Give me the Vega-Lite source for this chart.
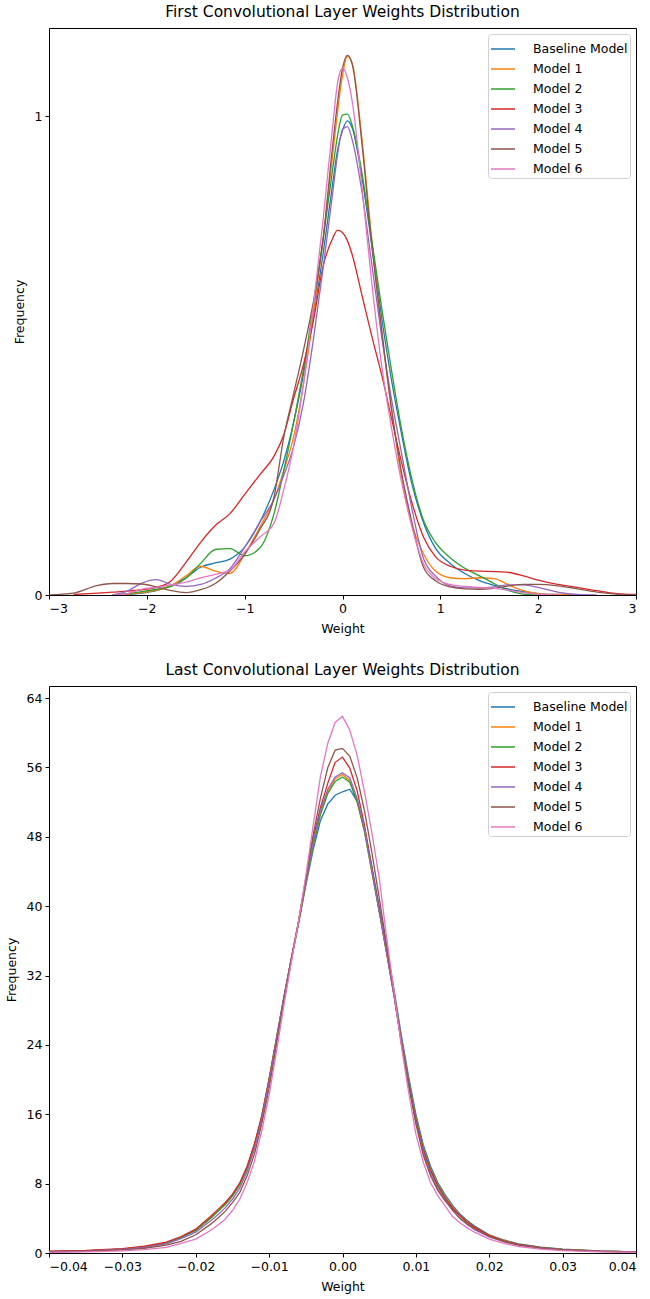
{
  "$schema": "https://vega.github.io/schema/vega-lite/v6.json",
  "background": "white",
  "padding": {"left": 4, "top": 4, "right": 0, "bottom": 5},
  "config": {
    "font": "DejaVu Sans",
    "view": {"stroke": "black", "strokeWidth": 1},
    "axis": {"domain": false, "grid": false, "tickColor": "black", "tickSize": 4, "labelFontSize": 12.5, "labelColor": "black", "titleFontSize": 12.5, "titleFontWeight": "normal", "titleColor": "black", "labelPadding": 3, "titlePadding": 8},
    "title": {"fontSize": 15.5, "fontWeight": "normal", "color": "black", "offset": 8},
    "legend": {"orient": "top-right", "offset": 6, "padding": 2, "strokeColor": "#d0d0d0", "fillColor": "white", "cornerRadius": 3, "symbolType": "stroke", "symbolSize": 576, "symbolStrokeWidth": 1.5, "labelFontSize": 12.5, "labelColor": "black", "labelOffset": 17, "rowPadding": -0.3, "labelLimit": 0}
  },
  "datasets": {
    "top": [
      {"w": -3, "Baseline Model": null, "Model 1": null, "Model 2": null, "Model 3": null, "Model 4": null, "Model 5": 0, "Model 6": null},
      {"w": -2.75, "Baseline Model": null, "Model 1": null, "Model 2": null, "Model 3": 0.001, "Model 4": null, "Model 5": 0.004, "Model 6": null},
      {"w": -2.5, "Baseline Model": null, "Model 1": null, "Model 2": null, "Model 3": 0.004, "Model 4": null, "Model 5": 0.02, "Model 6": null},
      {"w": -2.35, "Baseline Model": 0, "Model 1": 0, "Model 2": 0, "Model 3": 0.006, "Model 4": 0, "Model 5": 0.024, "Model 6": 0},
      {"w": -2.2, "Baseline Model": 0.001, "Model 1": 0.002, "Model 2": 0.003, "Model 3": 0.008, "Model 4": 0.008, "Model 5": 0.024, "Model 6": 0.003},
      {"w": -2.05, "Baseline Model": 0.004, "Model 1": 0.005, "Model 2": 0.007, "Model 3": 0.011, "Model 4": 0.025, "Model 5": 0.023, "Model 6": 0.012},
      {"w": -1.9, "Baseline Model": 0.009, "Model 1": 0.01, "Model 2": 0.012, "Model 3": 0.016, "Model 4": 0.032, "Model 5": 0.017, "Model 6": 0.016},
      {"w": -1.75, "Baseline Model": 0.02, "Model 1": 0.02, "Model 2": 0.018, "Model 3": 0.03, "Model 4": 0.022, "Model 5": 0.009, "Model 6": 0.021},
      {"w": -1.6, "Baseline Model": 0.036, "Model 1": 0.04, "Model 2": 0.035, "Model 3": 0.068, "Model 4": 0.018, "Model 5": 0.005, "Model 6": 0.027},
      {"w": -1.45, "Baseline Model": 0.058, "Model 1": 0.06, "Model 2": 0.066, "Model 3": 0.11, "Model 4": 0.022, "Model 5": 0.011, "Model 6": 0.036},
      {"w": -1.3, "Baseline Model": 0.067, "Model 1": 0.05, "Model 2": 0.095, "Model 3": 0.145, "Model 4": 0.035, "Model 5": 0.024, "Model 6": 0.043},
      {"w": -1.15, "Baseline Model": 0.075, "Model 1": 0.045, "Model 2": 0.097, "Model 3": 0.17, "Model 4": 0.055, "Model 5": 0.05, "Model 6": 0.052},
      {"w": -1.0, "Baseline Model": 0.1, "Model 1": 0.085, "Model 2": 0.082, "Model 3": 0.21, "Model 4": 0.1, "Model 5": 0.085, "Model 6": 0.09},
      {"w": -0.85, "Baseline Model": 0.15, "Model 1": 0.14, "Model 2": 0.097, "Model 3": 0.25, "Model 4": 0.15, "Model 5": 0.135, "Model 6": 0.12},
      {"w": -0.7, "Baseline Model": 0.22, "Model 1": 0.2, "Model 2": 0.17, "Model 3": 0.29, "Model 4": 0.2, "Model 5": 0.205, "Model 6": 0.15},
      {"w": -0.6, "Baseline Model": 0.28, "Model 1": 0.26, "Model 2": 0.26, "Model 3": 0.335, "Model 4": 0.25, "Model 5": 0.33, "Model 6": 0.22},
      {"w": -0.5, "Baseline Model": 0.36, "Model 1": 0.33, "Model 2": 0.36, "Model 3": 0.41, "Model 4": 0.31, "Model 5": 0.42, "Model 6": 0.31},
      {"w": -0.4, "Baseline Model": 0.46, "Model 1": 0.44, "Model 2": 0.47, "Model 3": 0.48, "Model 4": 0.4, "Model 5": 0.51, "Model 6": 0.44},
      {"w": -0.3, "Baseline Model": 0.58, "Model 1": 0.58, "Model 2": 0.6, "Model 3": 0.57, "Model 4": 0.53, "Model 5": 0.61, "Model 6": 0.6},
      {"w": -0.2, "Baseline Model": 0.71, "Model 1": 0.74, "Model 2": 0.74, "Model 3": 0.685, "Model 4": 0.68, "Model 5": 0.74, "Model 6": 0.78},
      {"w": -0.1, "Baseline Model": 0.86, "Model 1": 0.92, "Model 2": 0.89, "Model 3": 0.745, "Model 4": 0.84, "Model 5": 0.94, "Model 6": 0.98},
      {"w": -0.05, "Baseline Model": 0.93, "Model 1": 1.01, "Model 2": 0.96, "Model 3": 0.762, "Model 4": 0.92, "Model 5": 1.03, "Model 6": 1.07},
      {"w": 0, "Baseline Model": 0.97, "Model 1": 1.085, "Model 2": 1.002, "Model 3": 0.757, "Model 4": 0.972, "Model 5": 1.1, "Model 6": 1.1},
      {"w": 0.05, "Baseline Model": 0.99, "Model 1": 1.125, "Model 2": 1.004, "Model 3": 0.74, "Model 4": 0.978, "Model 5": 1.127, "Model 6": 1.08},
      {"w": 0.1, "Baseline Model": 0.975, "Model 1": 1.11, "Model 2": 0.98, "Model 3": 0.71, "Model 4": 0.95, "Model 5": 1.108, "Model 6": 1.03},
      {"w": 0.2, "Baseline Model": 0.87, "Model 1": 0.95, "Model 2": 0.88, "Model 3": 0.625, "Model 4": 0.84, "Model 5": 0.94, "Model 6": 0.85},
      {"w": 0.3, "Baseline Model": 0.73, "Model 1": 0.74, "Model 2": 0.74, "Model 3": 0.54, "Model 4": 0.69, "Model 5": 0.73, "Model 6": 0.65},
      {"w": 0.4, "Baseline Model": 0.58, "Model 1": 0.55, "Model 2": 0.6, "Model 3": 0.46, "Model 4": 0.54, "Model 5": 0.555, "Model 6": 0.48},
      {"w": 0.5, "Baseline Model": 0.45, "Model 1": 0.39, "Model 2": 0.47, "Model 3": 0.37, "Model 4": 0.41, "Model 5": 0.39, "Model 6": 0.35},
      {"w": 0.6, "Baseline Model": 0.34, "Model 1": 0.25, "Model 2": 0.35, "Model 3": 0.28, "Model 4": 0.3, "Model 5": 0.26, "Model 6": 0.24},
      {"w": 0.7, "Baseline Model": 0.24, "Model 1": 0.155, "Model 2": 0.25, "Model 3": 0.2, "Model 4": 0.19, "Model 5": 0.16, "Model 6": 0.15},
      {"w": 0.83, "Baseline Model": 0.15, "Model 1": 0.085, "Model 2": 0.155, "Model 3": 0.12, "Model 4": 0.075, "Model 5": 0.057, "Model 6": 0.064},
      {"w": 0.95, "Baseline Model": 0.098, "Model 1": 0.05, "Model 2": 0.11, "Model 3": 0.08, "Model 4": 0.04, "Model 5": 0.03, "Model 6": 0.035},
      {"w": 1.1, "Baseline Model": 0.066, "Model 1": 0.036, "Model 2": 0.078, "Model 3": 0.06, "Model 4": 0.019, "Model 5": 0.017, "Model 6": 0.022},
      {"w": 1.25, "Baseline Model": 0.045, "Model 1": 0.034, "Model 2": 0.056, "Model 3": 0.052, "Model 4": 0.015, "Model 5": 0.013, "Model 6": 0.018},
      {"w": 1.4, "Baseline Model": 0.03, "Model 1": 0.036, "Model 2": 0.04, "Model 3": 0.05, "Model 4": 0.015, "Model 5": 0.012, "Model 6": 0.016},
      {"w": 1.55, "Baseline Model": 0.02, "Model 1": 0.034, "Model 2": 0.024, "Model 3": 0.049, "Model 4": 0.017, "Model 5": 0.014, "Model 6": 0.014},
      {"w": 1.7, "Baseline Model": 0.012, "Model 1": 0.021, "Model 2": 0.009, "Model 3": 0.047, "Model 4": 0.021, "Model 5": 0.019, "Model 6": 0.01},
      {"w": 1.85, "Baseline Model": 0.007, "Model 1": 0.009, "Model 2": 0.002, "Model 3": 0.04, "Model 4": 0.021, "Model 5": 0.022, "Model 6": 0.005},
      {"w": 2.0, "Baseline Model": 0.003, "Model 1": 0.003, "Model 2": 0, "Model 3": 0.031, "Model 4": 0.016, "Model 5": 0.022, "Model 6": 0.002},
      {"w": 2.2, "Baseline Model": 0.001, "Model 1": 0.001, "Model 2": null, "Model 3": 0.022, "Model 4": 0.006, "Model 5": 0.019, "Model 6": 0},
      {"w": 2.4, "Baseline Model": 0, "Model 1": 0, "Model 2": null, "Model 3": 0.016, "Model 4": 0.001, "Model 5": 0.013, "Model 6": null},
      {"w": 2.6, "Baseline Model": null, "Model 1": null, "Model 2": null, "Model 3": 0.009, "Model 4": 0, "Model 5": 0.006, "Model 6": null},
      {"w": 2.8, "Baseline Model": null, "Model 1": null, "Model 2": null, "Model 3": 0.003, "Model 4": null, "Model 5": 0.002, "Model 6": null},
      {"w": 3.0, "Baseline Model": null, "Model 1": null, "Model 2": null, "Model 3": 0.001, "Model 4": null, "Model 5": 0, "Model 6": null}
    ],
    "bot": [
      {"w": -0.04, "Baseline Model": 0.15, "Model 1": 0.15, "Model 2": 0.15, "Model 3": 0.2, "Model 4": 0.13, "Model 5": 0.12, "Model 6": 0.08},
      {"w": -0.035, "Baseline Model": 0.25, "Model 1": 0.25, "Model 2": 0.25, "Model 3": 0.3, "Model 4": 0.22, "Model 5": 0.2, "Model 6": 0.13},
      {"w": -0.03, "Baseline Model": 0.45, "Model 1": 0.45, "Model 2": 0.45, "Model 3": 0.5, "Model 4": 0.41, "Model 5": 0.36, "Model 6": 0.25},
      {"w": -0.027, "Baseline Model": 0.7, "Model 1": 0.7, "Model 2": 0.7, "Model 3": 0.78, "Model 4": 0.64, "Model 5": 0.55, "Model 6": 0.4},
      {"w": -0.024, "Baseline Model": 1.15, "Model 1": 1.15, "Model 2": 1.15, "Model 3": 1.25, "Model 4": 1.05, "Model 5": 0.9, "Model 6": 0.65},
      {"w": -0.022, "Baseline Model": 1.8, "Model 1": 1.8, "Model 2": 1.8, "Model 3": 1.9, "Model 4": 1.65, "Model 5": 1.35, "Model 6": 1.1},
      {"w": -0.02, "Baseline Model": 2.6, "Model 1": 2.6, "Model 2": 2.6, "Model 3": 2.75, "Model 4": 2.4, "Model 5": 2.1, "Model 6": 1.6},
      {"w": -0.018, "Baseline Model": 4.0, "Model 1": 4.0, "Model 2": 4.0, "Model 3": 4.2, "Model 4": 3.7, "Model 5": 3.3, "Model 6": 2.6},
      {"w": -0.017, "Baseline Model": 4.8, "Model 1": 4.8, "Model 2": 4.8, "Model 3": 5.0, "Model 4": 4.4, "Model 5": 4.0, "Model 6": 3.2},
      {"w": -0.016, "Baseline Model": 5.6, "Model 1": 5.6, "Model 2": 5.6, "Model 3": 5.8, "Model 4": 5.2, "Model 5": 4.8, "Model 6": 3.9},
      {"w": -0.015, "Baseline Model": 6.6, "Model 1": 6.6, "Model 2": 6.6, "Model 3": 6.8, "Model 4": 6.2, "Model 5": 5.8, "Model 6": 4.9},
      {"w": -0.014, "Baseline Model": 7.9, "Model 1": 7.9, "Model 2": 7.9, "Model 3": 8.1, "Model 4": 7.5, "Model 5": 7.0, "Model 6": 6.2},
      {"w": -0.013, "Baseline Model": 9.8, "Model 1": 9.8, "Model 2": 9.8, "Model 3": 10.0, "Model 4": 9.4, "Model 5": 8.9, "Model 6": 8.1},
      {"w": -0.012, "Baseline Model": 12.4, "Model 1": 12.4, "Model 2": 12.4, "Model 3": 12.6, "Model 4": 12.0, "Model 5": 11.4, "Model 6": 10.6},
      {"w": -0.011, "Baseline Model": 15.8, "Model 1": 15.7, "Model 2": 15.7, "Model 3": 15.8, "Model 4": 15.4, "Model 5": 14.9, "Model 6": 14.1},
      {"w": -0.01, "Baseline Model": 20.1, "Model 1": 20.0, "Model 2": 20.0, "Model 3": 20.0, "Model 4": 19.7, "Model 5": 19.0, "Model 6": 18.2},
      {"w": -0.009, "Baseline Model": 24.8, "Model 1": 24.7, "Model 2": 24.7, "Model 3": 24.6, "Model 4": 24.5, "Model 5": 24.0, "Model 6": 23.2},
      {"w": -0.008, "Baseline Model": 29.5, "Model 1": 29.4, "Model 2": 29.4, "Model 3": 29.3, "Model 4": 29.3, "Model 5": 29.0, "Model 6": 28.5},
      {"w": -0.007, "Baseline Model": 33.9, "Model 1": 33.8, "Model 2": 33.8, "Model 3": 33.8, "Model 4": 33.8, "Model 5": 33.6, "Model 6": 33.4},
      {"w": -0.006, "Baseline Model": 38.0, "Model 1": 38.0, "Model 2": 38.0, "Model 3": 38.2, "Model 4": 38.2, "Model 5": 38.2, "Model 6": 38.2},
      {"w": -0.005, "Baseline Model": 42.4, "Model 1": 42.6, "Model 2": 42.6, "Model 3": 43.0, "Model 4": 42.9, "Model 5": 43.2, "Model 6": 43.5},
      {"w": -0.004, "Baseline Model": 46.5, "Model 1": 47.0, "Model 2": 47.0, "Model 3": 47.8, "Model 4": 47.4, "Model 5": 48.2, "Model 6": 49.3},
      {"w": -0.003, "Baseline Model": 49.9, "Model 1": 50.7, "Model 2": 50.6, "Model 3": 51.4, "Model 4": 51.1, "Model 5": 52.5, "Model 6": 55.0},
      {"w": -0.002, "Baseline Model": 51.8, "Model 1": 53.2, "Model 2": 53.0, "Model 3": 54.2, "Model 4": 53.5, "Model 5": 56.0, "Model 6": 58.8},
      {"w": -0.001, "Baseline Model": 52.8, "Model 1": 54.7, "Model 2": 54.4, "Model 3": 56.6, "Model 4": 54.9, "Model 5": 58.0, "Model 6": 61.2},
      {"w": 0, "Baseline Model": 53.2, "Model 1": 55.2, "Model 2": 54.9, "Model 3": 57.2, "Model 4": 55.4, "Model 5": 58.2, "Model 6": 61.9},
      {"w": 0.001, "Baseline Model": 53.5, "Model 1": 54.5, "Model 2": 54.3, "Model 3": 55.9, "Model 4": 54.8, "Model 5": 57.3, "Model 6": 60.3},
      {"w": 0.002, "Baseline Model": 52.1, "Model 1": 52.1, "Model 2": 52.0, "Model 3": 53.3, "Model 4": 52.4, "Model 5": 54.8, "Model 6": 57.4},
      {"w": 0.003, "Baseline Model": 49.0, "Model 1": 48.6, "Model 2": 48.6, "Model 3": 49.3, "Model 4": 48.9, "Model 5": 51.0, "Model 6": 53.2},
      {"w": 0.004, "Baseline Model": 44.6, "Model 1": 44.0, "Model 2": 44.0, "Model 3": 44.4, "Model 4": 44.2, "Model 5": 46.2, "Model 6": 48.5},
      {"w": 0.005, "Baseline Model": 40.0, "Model 1": 39.4, "Model 2": 39.4, "Model 3": 39.6, "Model 4": 39.5, "Model 5": 41.0, "Model 6": 43.3},
      {"w": 0.006, "Baseline Model": 35.3, "Model 1": 34.7, "Model 2": 34.7, "Model 3": 34.7, "Model 4": 34.7, "Model 5": 35.6, "Model 6": 36.5},
      {"w": 0.007, "Baseline Model": 30.5, "Model 1": 30.0, "Model 2": 29.9, "Model 3": 29.8, "Model 4": 29.8, "Model 5": 30.2, "Model 6": 30.3},
      {"w": 0.008, "Baseline Model": 25.2, "Model 1": 24.7, "Model 2": 24.6, "Model 3": 24.4, "Model 4": 24.4, "Model 5": 24.3, "Model 6": 24.0},
      {"w": 0.009, "Baseline Model": 20.4, "Model 1": 19.9, "Model 2": 19.8, "Model 3": 19.6, "Model 4": 19.5, "Model 5": 19.4, "Model 6": 18.6},
      {"w": 0.01, "Baseline Model": 16.0, "Model 1": 15.6, "Model 2": 15.5, "Model 3": 15.3, "Model 4": 15.1, "Model 5": 14.9, "Model 6": 13.7},
      {"w": 0.011, "Baseline Model": 12.5, "Model 1": 12.1, "Model 2": 12.0, "Model 3": 11.9, "Model 4": 11.6, "Model 5": 11.3, "Model 6": 10.5},
      {"w": 0.012, "Baseline Model": 10.0, "Model 1": 9.7, "Model 2": 9.6, "Model 3": 9.5, "Model 4": 9.2, "Model 5": 8.9, "Model 6": 8.1},
      {"w": 0.013, "Baseline Model": 8.1, "Model 1": 7.9, "Model 2": 7.8, "Model 3": 7.7, "Model 4": 7.4, "Model 5": 7.2, "Model 6": 6.6},
      {"w": 0.014, "Baseline Model": 6.7, "Model 1": 6.5, "Model 2": 6.4, "Model 3": 6.3, "Model 4": 6.1, "Model 5": 6.0, "Model 6": 5.4},
      {"w": 0.015, "Baseline Model": 5.5, "Model 1": 5.3, "Model 2": 5.2, "Model 3": 5.2, "Model 4": 4.9, "Model 5": 5.0, "Model 6": 4.2},
      {"w": 0.016, "Baseline Model": 4.5, "Model 1": 4.35, "Model 2": 4.3, "Model 3": 4.3, "Model 4": 4.0, "Model 5": 4.0, "Model 6": 3.5},
      {"w": 0.017, "Baseline Model": 3.75, "Model 1": 3.6, "Model 2": 3.55, "Model 3": 3.55, "Model 4": 3.3, "Model 5": 3.35, "Model 6": 2.9},
      {"w": 0.018, "Baseline Model": 3.1, "Model 1": 3.0, "Model 2": 2.95, "Model 3": 2.95, "Model 4": 2.7, "Model 5": 2.8, "Model 6": 2.4},
      {"w": 0.02, "Baseline Model": 2.1, "Model 1": 2.05, "Model 2": 2.0, "Model 3": 2.0, "Model 4": 1.85, "Model 5": 1.9, "Model 6": 1.6},
      {"w": 0.022, "Baseline Model": 1.5, "Model 1": 1.45, "Model 2": 1.4, "Model 3": 1.4, "Model 4": 1.3, "Model 5": 1.3, "Model 6": 1.1},
      {"w": 0.024, "Baseline Model": 1.05, "Model 1": 1.0, "Model 2": 1.0, "Model 3": 0.98, "Model 4": 0.9, "Model 5": 0.9, "Model 6": 0.75},
      {"w": 0.027, "Baseline Model": 0.68, "Model 1": 0.65, "Model 2": 0.65, "Model 3": 0.63, "Model 4": 0.58, "Model 5": 0.55, "Model 6": 0.45},
      {"w": 0.03, "Baseline Model": 0.44, "Model 1": 0.42, "Model 2": 0.42, "Model 3": 0.4, "Model 4": 0.37, "Model 5": 0.36, "Model 6": 0.28},
      {"w": 0.035, "Baseline Model": 0.23, "Model 1": 0.22, "Model 2": 0.22, "Model 3": 0.21, "Model 4": 0.19, "Model 5": 0.18, "Model 6": 0.14},
      {"w": 0.04, "Baseline Model": 0.13, "Model 1": 0.12, "Model 2": 0.12, "Model 3": 0.12, "Model 4": 0.1, "Model 5": 0.1, "Model 6": 0.07}
    ]
  },
  "bounds": "flush",
  "spacing": 91,
  "resolve": {"legend": {"color": "independent"}, "scale": {"color": "independent"}},
  "vconcat": [
    {
      "title": "First Convolutional Layer Weights Distribution",
      "width": 587,
      "height": 567,
      "data": {"name": "top"},
      "transform": [{"fold": ["Baseline Model", "Model 1", "Model 2", "Model 3", "Model 4", "Model 5", "Model 6"], "as": ["model", "freq"]}],
      "mark": {"type": "line", "interpolate": "monotone", "strokeWidth": 1.3, "clip": true},
      "encoding": {
        "x": {"field": "w", "type": "quantitative", "scale": {"domain": [-3, 3], "nice": false}, "axis": {"title": "Weight", "values": [-3, -2, -1, 0, 1, 2, 3], "format": "d"}},
        "y": {"field": "freq", "type": "quantitative", "scale": {"domain": [0, 1.184], "nice": false}, "axis": {"title": "Frequency", "values": [0, 1], "format": "d"}},
        "color": {"field": "model", "type": "nominal", "scale": {"domain": ["Baseline Model", "Model 1", "Model 2", "Model 3", "Model 4", "Model 5", "Model 6"], "range": ["#1f77b4", "#ff7f0e", "#2ca02c", "#d62728", "#9467bd", "#8c564b", "#e377c2"]}, "legend": {"title": null}}
      }
    },
    {
      "title": "Last Convolutional Layer Weights Distribution",
      "width": 587,
      "height": 567,
      "data": {"name": "bot"},
      "transform": [{"fold": ["Baseline Model", "Model 1", "Model 2", "Model 3", "Model 4", "Model 5", "Model 6"], "as": ["model", "freq"]}],
      "mark": {"type": "line", "interpolate": "linear", "strokeWidth": 1.3, "clip": true},
      "encoding": {
        "x": {"field": "w", "type": "quantitative", "scale": {"domain": [-0.04, 0.04], "nice": false}, "axis": {"title": "Weight", "values": [-0.04, -0.03, -0.02, -0.01, 0, 0.01, 0.02, 0.03, 0.04], "format": ".2f"}},
        "y": {"field": "freq", "type": "quantitative", "scale": {"domain": [0, 65.4], "nice": false}, "axis": {"title": "Frequency", "values": [0, 8, 16, 24, 32, 40, 48, 56, 64], "format": "d"}},
        "color": {"field": "model", "type": "nominal", "scale": {"domain": ["Baseline Model", "Model 1", "Model 2", "Model 3", "Model 4", "Model 5", "Model 6"], "range": ["#1f77b4", "#ff7f0e", "#2ca02c", "#d62728", "#9467bd", "#8c564b", "#e377c2"]}, "legend": {"title": null}}
      }
    }
  ]
}
